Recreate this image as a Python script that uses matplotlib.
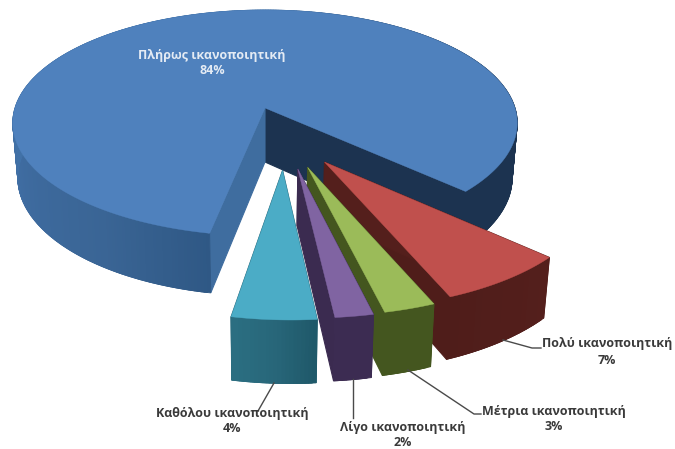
import numpy as np
import matplotlib
matplotlib.use("Agg")
import matplotlib.pyplot as plt
from matplotlib.patches import Polygon
from matplotlib.colors import to_rgb

# --- data -------------------------------------------------------------
categories = ["Πλήρως ικανοποιητική", "Πολύ ικανοποιητική", "Μέτρια ικανοποιητική",
              "Λίγο ικανοποιητική", "Καθόλου ικανοποιητική"]
values = [83.9, 7.0, 2.7, 2.0, 4.4]

# --- styles -----------------------------------------------------------
first_angle = 191.1
explode = [(0, 0), (0.235, 0.458), (0.178, 0.50), (0.141, 0.512), (0.084, 0.523)]
apex_nudge = [0, -3, -5, -5, -5]
top_colors = ["#4f81bd", "#c0504d", "#9bbb59", "#8064a2", "#4bacc6"]
cut_start_colors = ["#1c3350", "#4f1d1a", "#44561f", "#3b2b50", "#235f70"]
cut_end_colors = ["#3f6d9f", "#541f1c", "#44561f", "#3b2b50", "#235f70"]
rim_stops = [
    [(0, "#2f5885"), (24, "#3a6595"), (60, "#3f6ca1"), (80, "#4272a8"), (170, "#4272a8"), (260, "#1c3350"), (303, "#1c3350")],
    [(0, "#541f1c"), (26, "#4f1d1a")],
    [(0, "#44561f"), (10, "#44561f")],
    [(0, "#3c2c52"), (8, "#3c2c52")],
    [(0, "#1f5869"), (8, "#28677a"), (16, "#2b6f82")],
]
label_pos = [(212, 63), (607, 352), (554, 419), (403, 435), (232, 421)]
label_colors = ["#e4ebf4", "#3a3a3a", "#3a3a3a", "#3a3a3a", "#3a3a3a"]
leaders = [None,
           [(503, 340), (532, 348), (541, 348)],
           [(408, 370), (474, 414), (481, 414)],
           [(353, 379), (353, 418)],
           [(274, 383), (258, 411)]]

CX, K, B = 265.0, -0.133, 250.0
PLANES = [dict(sx=1.0, y0=108.0, a=111.0), dict(sx=0.98, y0=162.0, a=116.0)]


def project(u, v, level):
    p = PLANES[level]
    w = 1 + K * v
    return CX + p["sx"] * B * u / w, p["y0"] + p["a"] * v / w


def disc(theta, off=(0, 0)):
    t = np.radians(theta)
    return np.sin(t) + off[0], -np.cos(t) + off[1]


fig = plt.figure(figsize=(6.75, 4.49), dpi=100)
ax = fig.add_axes([0, 0, 1, 1])
ax.set_xlim(0, 675)
ax.set_ylim(449, 0)
ax.axis("off")


def fill(pts, color, z, lw=0.3):
    ax.add_patch(Polygon(pts, closed=True, facecolor=color, edgecolor=color, linewidth=lw, zorder=z))


start = first_angle
total = sum(values)
for i, val in enumerate(values):
    sweep = 360.0 * val / total
    end = start + sweep
    off = explode[i]
    z = 10 + i * 10
    at = project(off[0], off[1], 0)
    ab = project(off[0], off[1], 1)
    apex_t = (at[0] + apex_nudge[i], at[1])
    apex_b = (ab[0] + apex_nudge[i], ab[1])
    thetas = np.linspace(start, end, max(8, int(sweep * 1.5)))

    # the two cut walls go first; a hidden one is then covered by the rim and top
    e = disc(end, off)
    s = disc(start, off)
    fill([apex_t, project(*e, 0), project(*e, 1), apex_b], cut_start_colors[i], z, lw=0.8)
    fill([apex_t, project(*s, 0), project(*s, 1), apex_b], cut_end_colors[i], z + 1, lw=0.8)

    # outer wall, strip by strip; each strip overlaps the next to hide seams
    stops = rim_stops[i]
    sx = [t[0] for t in stops]
    rgb = np.array([to_rgb(t[1]) for t in stops])
    for j in range(len(thetas) - 1):
        t0 = thetas[j]
        t1 = thetas[min(j + 2, len(thetas) - 1)]
        a, b = disc(t0, off), disc(t1, off)
        col = [np.interp(thetas[j] + 0.5 * (thetas[1] - thetas[0]) - start, sx, rgb[:, c]) for c in range(3)]
        fill([project(*a, 0), project(*b, 0), project(*b, 1), project(*a, 1)], col, z + 2, lw=0.6)

    # top face
    rim = [project(*disc(t, off), 0) for t in thetas]
    fill([apex_t] + rim, top_colors[i], z + 3)

    start = end

for cat, val, pos, col, lead in zip(categories, values, label_pos, label_colors, leaders):
    if lead is not None:
        xs, ys = zip(*lead)
        ax.plot(xs, ys, color="#4a4a4a", lw=1.0, zorder=90)
    ax.text(pos[0], pos[1], f"{cat}\n{val:.0f}%", ha="center", va="center", color=col,
            family="Open Sans", fontsize=9.0, fontweight="bold", linespacing=1.3, zorder=100)

fig.savefig("out.png", dpi=100, facecolor="white")
